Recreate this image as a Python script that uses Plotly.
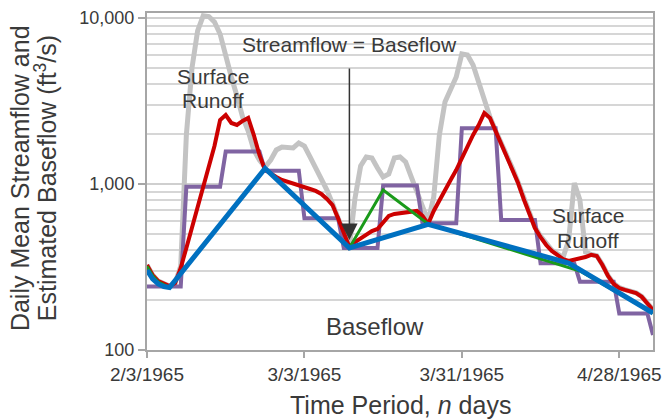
import numpy as np
import pandas as pd
import plotly.graph_objects as go

start = pd.Timestamp("1965-02-03")
n_days = 91
day_index = list(range(n_days))
dates = [start + pd.Timedelta(days=d) for d in day_index]

# Daily mean streamflow (ft3/s)
streamflow = [325, 283, 260, 250, 243, 253, 320, 1973, 4998, 8353,
              10300, 10200, 9460, 8010, 5861, 4412, 3388, 2533, 2086, 1603,
              1395, 1266, 1395, 1603, 1671, 1671, 1650, 1766, 1694, 1455,
              1249, 1087, 920, 760, 624, 514, 417, 823, 1284, 1455,
              1434, 1249, 1102, 1149, 1434, 1455, 1357, 1102, 895, 737,
              598, 835, 1973, 3119, 3660, 4412, 6069, 5986, 5212, 4045,
              3206, 2533, 2100, 1780, 1470, 1245, 1025, 822, 660, 550,
              485, 435, 400, 380, 360, 460, 1014, 801, 389, 376,
              370, 327, 281, 252, 238, 231, 225, 221, 210, 193, 175]

# Sliding-interval baseflow (red)
sliding = [325, 283, 260, 250, 243, 253, 312, 412, 543, 717,
           959, 1284, 1694, 2430, 2604, 2331, 2267, 2397, 2498, 1973,
           1495, 1214, 1149, 1102, 1057, 1028, 1000, 973, 959, 933,
           908, 871, 812, 747, 620, 510, 417, 447, 473, 500,
           521, 536, 590, 642, 660, 669, 678, 688, 688, 642,
           574, 688, 801, 920, 1057, 1214, 1434, 1671, 1973, 2267,
           2677, 2498, 2086, 1766, 1455, 1231, 1014, 812, 651, 543,
           479, 429, 395, 374, 353, 344, 349, 358, 363, 374,
           368, 325, 279, 250, 236, 230, 224, 220, 209, 192, 174]

# Fixed-interval baseflow (purple)
fixed = [241, 241, 241, 241, 241, 241, 241,
         963, 963, 963, 963, 963, 963, 963,
         1567, 1567, 1567, 1567, 1567, 1567, 1567,
         1200, 1200, 1200, 1200, 1200, 1200, 1200,
         621, 621, 621, 621, 621, 621, 621,
         411, 411, 411, 411, 411, 411, 411,
         980, 980, 980, 980, 980, 980, 980,
         580, 580, 580, 580, 580, 580, 580,
         2165, 2165, 2165, 2165, 2165, 2165, 2165,
         607, 607, 607, 607, 607, 607, 607,
         333, 333, 333, 333, 333, 333, 333,
         258, 258, 258, 258, 258, 258, 258,
         166, 166, 166, 166, 166, 166, 123]

# Local-minimum baseflow (blue) - turning points
local_days = [0, 1, 2, 3, 4, 21, 36, 50, 75, 90]
local_vals = [303, 268, 250, 241, 238, 1240, 412, 572, 334, 167]

# Alternative baseflow (green) - turning points
green_days = [0, 1, 2, 3, 4, 21, 36, 42, 50, 77, 90]
green_vals = [320, 280, 257, 246, 238, 1240, 412, 920, 574, 299, 167]

x_tick_days = [0, 28, 56, 84]
x_tick_text = ["2/3/1965", "3/3/1965", "3/31/1965", "4/28/1965"]
y_tick_vals = [100, 1000, 10000]
y_tick_text = ["100", "1,000", "10,000"]

def to_date(d):
    return start + pd.Timedelta(days=d)

FONT = "Arial, Liberation Sans, sans-serif"
TXT = "#3a3a3a"

fig = go.Figure()
fig.add_trace(go.Scatter(x=dates, y=streamflow, mode="lines",
                         line=dict(color="#c3c3c3", width=5), showlegend=False))
fig.add_trace(go.Scatter(x=dates, y=fixed, mode="lines",
                         line=dict(color="#8064a2", width=4), showlegend=False))
fig.add_trace(go.Scatter(x=dates, y=sliding, mode="lines",
                         line=dict(color="#cc0000", width=4), showlegend=False))
fig.add_trace(go.Scatter(x=[to_date(d) for d in green_days], y=green_vals, mode="lines",
                         line=dict(color="#1a9a1a", width=3), showlegend=False))
fig.add_trace(go.Scatter(x=[to_date(d) for d in local_days], y=local_vals, mode="lines",
                         line=dict(color="#0070c0", width=5), showlegend=False))

fig.update_xaxes(type="date", range=[to_date(0), to_date(90)], automargin=False,
                 tickvals=[to_date(d) for d in x_tick_days], ticktext=x_tick_text,
                 showline=True, mirror=True, linecolor="#a6a6a6", linewidth=2,
                 ticks="outside", ticklen=6, tickwidth=2, tickcolor="#a6a6a6",
                 showgrid=False, zeroline=False,
                 tickfont=dict(family=FONT, size=19, color=TXT))
fig.update_yaxes(type="log", range=[2, 4.03], automargin=False,
                 tickvals=y_tick_vals, ticktext=y_tick_text,
                 showline=True, mirror=True, linecolor="#a6a6a6", linewidth=2,
                 ticks="outside", ticklen=7, tickwidth=2, tickcolor="#a6a6a6",
                 showgrid=True, gridcolor="#cfcfcf", gridwidth=1.5,
                 minor=dict(dtick="D1", showgrid=True, gridcolor="#d6d6d6", gridwidth=1.5, ticks=""),
                 tickfont=dict(family=FONT, size=18, color=TXT))

ann = []
# In-chart labels
ann.append(dict(x=to_date(36.1), y=np.log10(6966), text="Streamflow = Baseflow", showarrow=False,
                font=dict(family=FONT, size=21, color=TXT), xanchor="center", yanchor="middle"))
ann.append(dict(x=to_date(11.7), y=np.log10(4416), text="Surface", showarrow=False,
                font=dict(family=FONT, size=21, color=TXT), xanchor="center", yanchor="middle"))
ann.append(dict(x=to_date(11.7), y=np.log10(3162), text="Runoff", showarrow=False,
                font=dict(family=FONT, size=21, color=TXT), xanchor="center", yanchor="middle"))
ann.append(dict(x=to_date(78.4), y=np.log10(650), text="Surface", showarrow=False,
                font=dict(family=FONT, size=21, color=TXT), xanchor="center", yanchor="middle"))
ann.append(dict(x=to_date(78.4), y=np.log10(454), text="Runoff", showarrow=False,
                font=dict(family=FONT, size=21, color=TXT), xanchor="center", yanchor="middle"))
ann.append(dict(x=to_date(40.5), y=np.log10(138), text="Baseflow", showarrow=False,
                font=dict(family=FONT, size=24, color=TXT), xanchor="center", yanchor="middle"))
# Arrow
ann.append(dict(x=to_date(36), y=np.log10(460), text="", showarrow=True,
                ax=0, ay=-173, arrowhead=2, arrowsize=2.2, arrowwidth=1.5, arrowcolor="#333333"))
# Axis titles
ann.append(dict(xref="paper", yref="paper", x=0.5, y=-0.163,
                text="Time Period, <i>n</i> days", showarrow=False,
                font=dict(family=FONT, size=25, color=TXT), xanchor="center", yanchor="middle"))
ann.append(dict(xref="paper", yref="paper", x=-0.251, y=0.51,
                text="Daily Mean Streamflow and", showarrow=False, textangle=-90,
                font=dict(family=FONT, size=25, color=TXT), xanchor="center", yanchor="middle"))
ann.append(dict(xref="paper", yref="paper", x=-0.1996, y=0.51,
                text="Estimated Baseflow (ft<sup>3</sup>/s)", showarrow=False, textangle=-90,
                font=dict(family=FONT, size=25, color=TXT), xanchor="center", yanchor="middle"))

fig.update_layout(width=665, height=420,
                  margin=dict(l=147, r=12, t=13, b=70, autoexpand=False),
                  plot_bgcolor="white", paper_bgcolor="white", annotations=ann)

fig.write_html("out.html", config={"displayModeBar": False},
               post_script="document.body.style.margin='0px';document.body.style.padding='0px';")
